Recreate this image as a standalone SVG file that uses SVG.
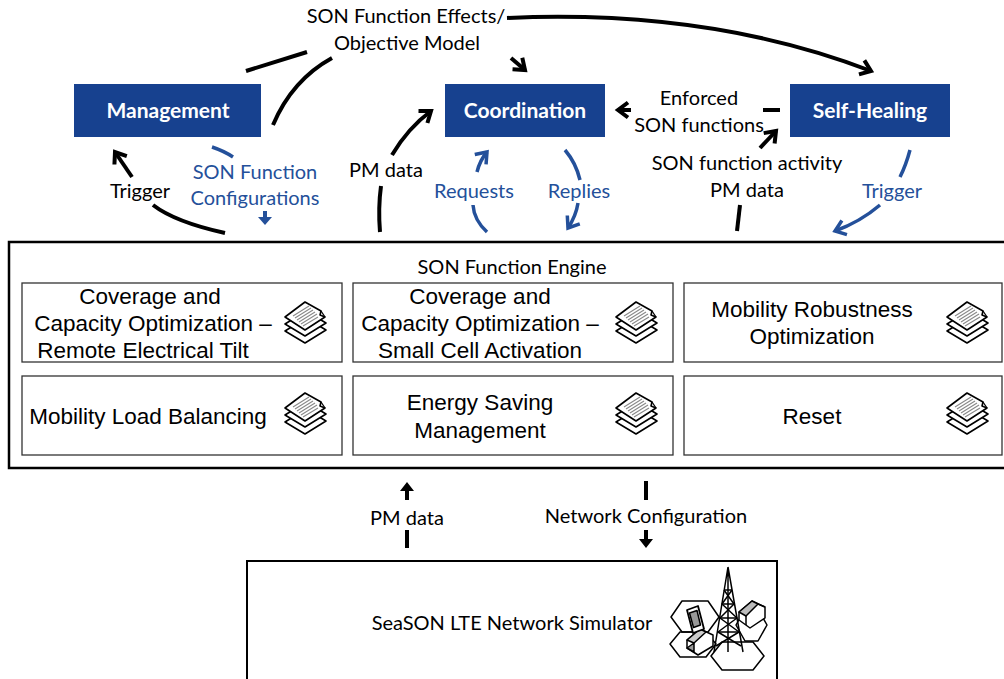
<svg xmlns="http://www.w3.org/2000/svg" xmlns:xlink="http://www.w3.org/1999/xlink" width="1004" height="679" viewBox="0 0 1004 679">
  <style>
    .lbl { font-family: Lato, "Open Sans", sans-serif; font-size: 20px; fill: #000; text-anchor: middle; }
    .blue { fill: #24509a; }
    .box-t { font-family: Lato, "Open Sans", sans-serif; font-size: 21px; font-weight: bold; fill: #fff; text-anchor: middle; }
    .fn { font-family: "Liberation Sans", Arial, sans-serif; font-size: 22.5px; fill: #000; text-anchor: middle; }
    .ctrl { fill: #17418f; }
    .fnbox { fill: #fff; stroke: #333; stroke-width: 1.3; }
    .k { fill: none; stroke: #000; stroke-width: 4; }
    .b { fill: none; stroke: #24509a; stroke-width: 3.5; }
    .ln { fill: none; stroke: #000; stroke-width: 1.5; stroke-linejoin: round; }
  </style>
  <defs>
    <marker id="ahK" markerUnits="userSpaceOnUse" viewBox="-14 -10 16 20" refX="0" refY="0" markerWidth="16" markerHeight="20" orient="auto" overflow="visible">
      <path d="M -10 -7.5 L 0 0 L -10 7.5" fill="none" stroke="#000" stroke-width="4"/>
    </marker>
    <marker id="ahB" markerUnits="userSpaceOnUse" viewBox="-14 -10 16 20" refX="0" refY="0" markerWidth="16" markerHeight="20" orient="auto" overflow="visible">
      <path d="M -10 -7.5 L 0 0 L -10 7.5" fill="none" stroke="#24509a" stroke-width="3.5"/>
    </marker>
    <!-- stacked documents icon -->
    <g id="docs">
      <path d="M 1 31 L 22 18 L 42 30 L 21 43 Z" fill="#fff" stroke="#000" stroke-width="1.6" stroke-linejoin="round"/>
      <path d="M 1 24 L 22 11 L 42 23 L 21 36 Z" fill="#fff" stroke="#000" stroke-width="1.6" stroke-linejoin="round"/>
      <path d="M 1 17 L 21 2 L 37 11 L 36 15 L 41 17 L 21 30 Z" fill="#fff" stroke="#000" stroke-width="1.6" stroke-linejoin="round"/>
      <path d="M 37 11 L 41 17" fill="none" stroke="#000" stroke-width="1.3"/>
      <g stroke="#888" stroke-width="1.1">
        <path d="M 9 16 L 25 6"/>
        <path d="M 11 18 L 27 8"/>
        <path d="M 13 20 L 29 10"/>
        <path d="M 15 22 L 31 12"/>
        <path d="M 17 24 L 33 14"/>
        <path d="M 19 26 L 34 17"/>
      </g>
    </g>
  </defs>

  <rect width="1004" height="679" fill="#fff"/>

  <!-- control layer -->
  <g id="management">
    <rect class="ctrl" x="74" y="84" width="187" height="53"/>
    <text class="box-t" x="168" y="118">Management</text>
  </g>
  <g id="coordination">
    <rect class="ctrl" x="445" y="84" width="160" height="53"/>
    <text class="box-t" x="525" y="118">Coordination</text>
  </g>
  <g id="self-healing">
    <rect class="ctrl" x="790" y="84" width="160" height="53"/>
    <text class="box-t" x="870" y="118">Self-Healing</text>
  </g>

  <!-- connector labels -->
  <g id="labels">
    <text class="lbl" x="406" y="23">SON Function Effects/</text>
    <text class="lbl" x="407" y="50">Objective Model</text>
    <text class="lbl" x="699" y="105">Enforced</text>
    <text class="lbl" x="699" y="132">SON functions</text>
    <text class="lbl" x="747" y="170">SON function activity</text>
    <text class="lbl" x="747" y="197">PM data</text>
    <text class="lbl" x="140" y="198">Trigger</text>
    <text class="lbl blue" x="255" y="179">SON Function</text>
    <text class="lbl blue" x="255" y="205">Configurations</text>
    <text class="lbl" x="386" y="177">PM data</text>
    <text class="lbl blue" x="474" y="198">Requests</text>
    <text class="lbl blue" x="579" y="198">Replies</text>
    <text class="lbl blue" x="892" y="198">Trigger</text>
    <text class="lbl" x="407" y="525">PM data</text>
    <text class="lbl" x="646" y="523">Network Configuration</text>
  </g>

  <!-- connectors -->
  <g id="connectors">
    <path class="k" d="M 507 18 Q 710 9 871 71" marker-end="url(#ahK)"/>
    <path class="k" d="M 511 58 L 525 70" marker-end="url(#ahK)"/>
    <path class="k" d="M 246 71 L 307 52"/>
    <path class="k" d="M 273 125 Q 292 80 332 58"/>
    <path class="k" d="M 225 233 Q 175 222 153 205"/>
    <path class="k" d="M 132 177 L 115 152" marker-end="url(#ahK)"/>
    <path class="b" d="M 212 147 Q 224 151 233 157"/>
    <path d="M 263 211 h 4 v 6 h 5 l -7 8 l -7 -8 h 5 z" fill="#24509a"/>
    <path class="k" d="M 380 232 Q 378 208 381 186"/>
    <path class="k" d="M 392 155 Q 408 128 431 111" marker-end="url(#ahK)"/>
    <path class="b" d="M 487 232 Q 474 220 473 205"/>
    <path class="b" d="M 477 172 Q 480 160 487 152" marker-end="url(#ahB)"/>
    <path class="b" d="M 565 150 Q 576 163 580 180"/>
    <path class="b" d="M 578 203 Q 576 216 568 228" marker-end="url(#ahB)"/>
    <path class="k" d="M 631 110 L 618 110" marker-end="url(#ahK)"/>
    <path class="k" d="M 763 110 L 780 110"/>
    <path class="k" d="M 760 148 L 776 131" marker-end="url(#ahK)"/>
    <path class="k" d="M 737 231 L 740 205"/>
    <path class="b" d="M 910 150 Q 906 165 900 177"/>
    <path class="b" d="M 880 205 Q 860 222 835 231" marker-end="url(#ahB)"/>
    <!-- engine / simulator links -->
    <path d="M 407 482 L 414 491 L 409 491 L 409 500 L 405 500 L 405 491 L 400 491 Z" fill="#000"/>
    <path class="k" d="M 407 530 L 407 548"/>
    <path class="k" d="M 646 481 L 646 500"/>
    <path d="M 646 548 L 653 539 L 648 539 L 648 530 L 644 530 L 644 539 L 639 539 Z" fill="#000"/>
  </g>

  <!-- SON function engine -->
  <g id="son-function-engine">
    <rect x="9" y="242" width="1010" height="226" fill="#fff" stroke="#000" stroke-width="2.5"/>
    <text x="512" y="274" font-family="Lato, 'Open Sans', sans-serif" font-size="20" text-anchor="middle">SON Function Engine</text>
  </g>
  <g id="fn-cco-ret">
    <rect class="fnbox" x="22" y="283" width="320" height="79"/>
    <text class="fn" x="150" y="304">Coverage and</text>
    <text class="fn" x="153" y="331">Capacity Optimization –</text>
    <text class="fn" x="143" y="358">Remote Electrical Tilt</text>
    <use xlink:href="#docs" x="284" y="300"/>
  </g>
  <g id="fn-cco-sca">
    <rect class="fnbox" x="353" y="283" width="320" height="79"/>
    <text class="fn" x="480" y="304">Coverage and</text>
    <text class="fn" x="480" y="331">Capacity Optimization –</text>
    <text class="fn" x="480" y="358">Small Cell Activation</text>
    <use xlink:href="#docs" x="615" y="300"/>
  </g>
  <g id="fn-mro">
    <rect class="fnbox" x="684" y="283" width="318" height="79"/>
    <text class="fn" x="812" y="317">Mobility Robustness</text>
    <text class="fn" x="812" y="344">Optimization</text>
    <use xlink:href="#docs" x="946" y="300"/>
  </g>
  <g id="fn-mlb">
    <rect class="fnbox" x="22" y="376" width="320" height="79"/>
    <text class="fn" x="148" y="424">Mobility Load Balancing</text>
    <use xlink:href="#docs" x="284" y="391"/>
  </g>
  <g id="fn-esm">
    <rect class="fnbox" x="353" y="376" width="320" height="79"/>
    <text class="fn" x="480" y="410">Energy Saving</text>
    <text class="fn" x="480" y="438">Management</text>
    <use xlink:href="#docs" x="615" y="391"/>
  </g>
  <g id="fn-reset">
    <rect class="fnbox" x="684" y="376" width="318" height="79"/>
    <text class="fn" x="812" y="424">Reset</text>
    <use xlink:href="#docs" x="946" y="391"/>
  </g>

  <!-- network simulator -->
  <g id="simulator">
    <rect x="247" y="561" width="530" height="140" fill="#fff" stroke="#000" stroke-width="2"/>
    <text x="512" y="630" font-family="Lato, 'Open Sans', sans-serif" font-size="20" text-anchor="middle">SeaSON LTE Network Simulator</text>
    <!-- cells -->
    <g class="ln" fill="#fff">
      <path d="M 671 617 L 682 601 L 708 601 L 719 617 L 708 632 L 682 632 Z"/>
      <path d="M 670 644 L 680 632 L 706 632 L 716 644 L 706 657 L 680 657 Z" fill="none"/>
      <path d="M 711 656 L 722 642 L 753 642 L 764 656 L 753 670 L 722 670 Z"/>
      <path d="M 736 625 L 745 609 L 758 609 L 767 625 L 758 641 L 745 641 Z" fill="none"/>
    </g>
    <!-- tower -->
    <g class="ln" stroke-width="1.8">
      <path d="M 728 567 L 714 652 M 728 567 L 743 652 M 728 567 L 728 652"/>
      <path d="M 724 590 L 732 590 M 722 604 L 734 604 M 720 618 L 737 618 M 718 632 L 739 632"/>
      <path d="M 724 590 L 734 604 L 720 618 L 739 632 L 716 646 M 732 590 L 722 604 L 737 618 L 718 632 L 741 646"/>
    </g>
    <!-- houses -->
    <g class="ln">
      <path d="M 739 612 L 752 601 L 765 607 L 765 618 L 750 628 L 739 620 Z" fill="#fff"/>
      <path d="M 739 612 L 752 601 L 758 604 L 746 616 Z" fill="#bbb"/>
      <path d="M 746 616 L 746 625 M 758 604 L 765 607"/>
      <path d="M 687 640 L 700 629 L 713 635 L 713 646 L 698 655 L 687 648 Z" fill="#fff"/>
      <path d="M 687 640 L 700 629 L 706 632 L 694 643 Z" fill="#ccc"/>
      <path d="M 694 643 L 694 652 L 687 648 Z" fill="#999"/>
    </g>
    <!-- handset -->
    <g class="ln">
      <path d="M 687 610 L 698 606 L 704 629 L 693 633 Z" fill="#fff" stroke-width="1.8"/>
      <path d="M 689.5 613 L 697 610.5 L 700.5 625 L 693.5 627.5 Z" fill="#999"/>
    </g>
  </g>
</svg>
